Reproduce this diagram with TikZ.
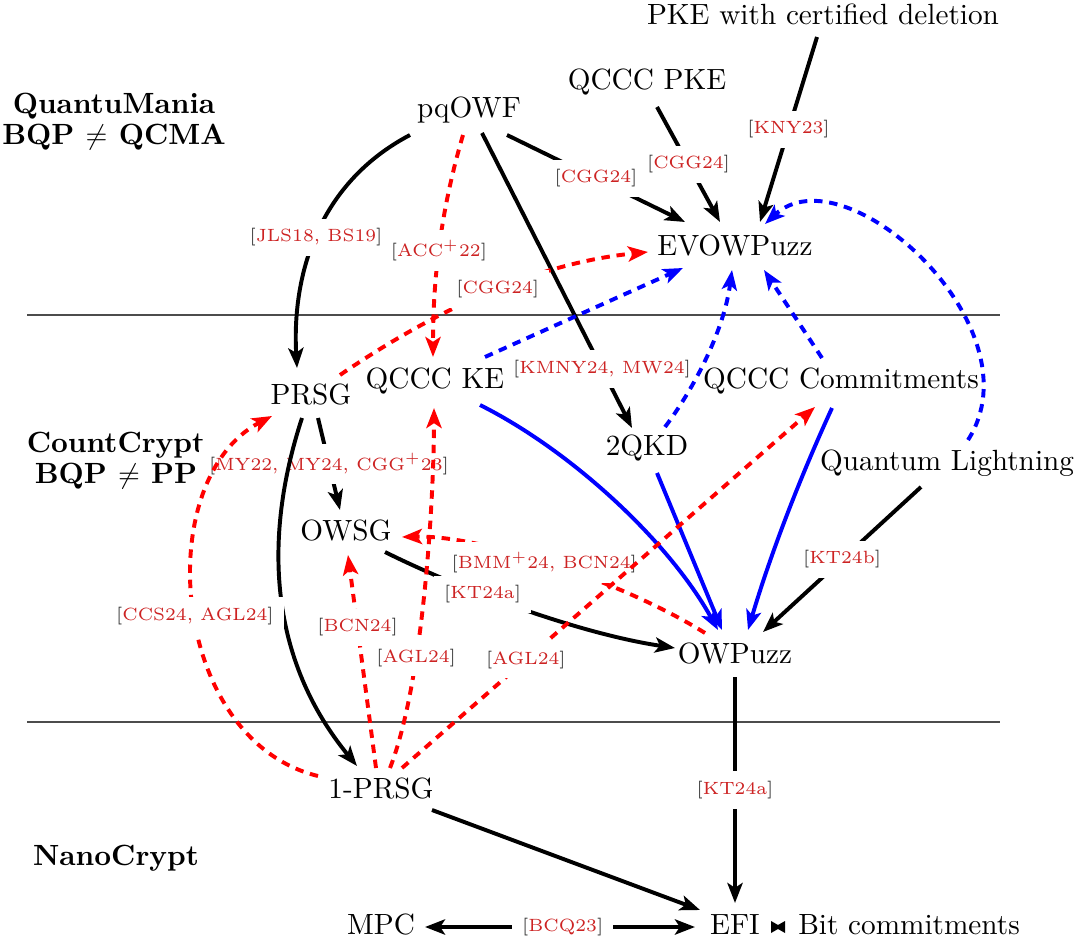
\documentclass[tikz,border=0pt]{standalone}
\usetikzlibrary{arrows.meta}
\definecolor{citered}{RGB}{205,35,35}
\definecolor{brk}{RGB}{50,50,50}
\newcommand\cit[1]{{\color{brk}[}{\color{citered}#1}{\color{brk}]}}
\begin{document}
\begin{tikzpicture}[x=0.0125cm,y=-0.0125cm,
  >={Stealth[length=2.5mm,width=1.9mm,inset=0.6mm]},
  main/.style={inner sep=3.3pt, text height=7pt, text depth=2pt, font=\fontsize{10.4}{12.5}\selectfont},
  zone/.style={font=\fontsize{10.4}{11}\selectfont\bfseries, align=center, inner sep=1pt},
  lab/.style={font=\fontsize{6.3}{7.5}\selectfont, fill=white, inner sep=3.5pt},
  arr/.style={line width=1.4pt, ->},
  dsh/.style={dash pattern=on 3pt off 2.4pt},
  sep/.style={line width=0.6pt, black!70}]
\useasboundingbox (0,0) rectangle (1080,946);

% separators
\draw[sep] (27,315) -- (1000,315);
\draw[sep] (27,722) -- (1000,722);

% nodes
\node[main] (pke) at (823,17) {PKE with certified deletion};
\node[main] (qpke) at (647,82) {QCCC PKE};
\node[main] (pq) at (469,110) {pqOWF};
\node[zone] (qm) at (114,122) {QuantuMania\\BQP $\neq$ QCMA};
\node[main] (ev) at (735,248) {EVOWPuzz};
\node[main] (prsg) at (311,397) {PRSG};
\node[main] (ke) at (435,381) {QCCC KE};
\node[main] (com) at (841,381) {QCCC Commitments};
\node[main] (qkd) at (647,448) {2QKD};
\node[zone] (cc) at (116,461) {CountCrypt\\BQP $\neq$ PP};
\node[main] (ql) at (947,463) {Quantum Lightning};
\node[main] (owsg) at (346,533) {OWSG};
\node[main] (owp) at (735,656) {OWPuzz};
\node[main] (one) at (381,791) {1-PRSG};
\node[zone] (nc) at (116,858) {NanoCrypt};
\node[main] (mpc) at (381,927) {MPC};
\node[main] (efi) at (735,927) {EFI};
\node[main] (bc) at (909,927) {Bit commitments};
\begin{scope}[shift={(efi.center)}]
  \fill (36,-6) -- (43,-2) -- (50,-6) -- (50,6) -- (43,2) -- (36,6) -- cycle;
\end{scope}

% edges
\draw[arr] ([shift={(-59,25)}]pq.center) .. controls +(-95,50) and +(-5,-88) .. ([shift={(-14,-29)}]prsg.center) node[lab,pos=0.5]{\cit{JLS18, BS19}};
\draw[arr,red,dsh] ([shift={(-6,25)}]pq.center) .. controls +(-22,75) and +(0,-80) .. ([shift={(-2,-24)}]ke.center) node[lab,pos=0.53]{\cit{ACC$^+$22}};
\draw[arr] ([shift={(38,25)}]pq.center) -- ([shift={(-50,-26)}]ev.center) node[lab,pos=0.5]{\cit{CGG24}};
\draw[arr] ([shift={(13,23)}]pq.center) -- ([shift={(-15,-20)}]qkd.center) node[lab,pos=0.8]{\cit{KMNY24, MW24}};
\draw[arr] ([shift={(10,25)}]qpke.center) -- ([shift={(-15,-26)}]ev.center) node[lab,pos=0.5]{\cit{CGG24}};
\draw[arr] ([shift={(-6,20)}]pke.center) -- ([shift={(25,-26)}]ev.center) node[lab,pos=0.5]{\cit{KNY23}};
\draw[arr,red,dsh] ([shift={(29,-22)}]prsg.center) .. controls +(110,-75) and +(-100,10) .. ([shift={(-87,4)}]ev.center) node[lab,pos=0.5]{\cit{CGG24}};
\draw[arr,blue,dsh] ([shift={(50,-24)}]ke.center) -- ([shift={(-52,20)}]ev.center);
\draw[arr,blue,dsh] ([shift={(18,-21)}]qkd.center) .. controls +(30,-40) and +(-8,60) .. ([shift={(-3,22)}]ev.center);
\draw[arr,blue,dsh] ([shift={(-19,-23)}]com.center) -- ([shift={(29,22)}]ev.center);
\draw[arr,blue,dsh] ([shift={(21,-23)}]ql.center) .. controls +(72,-112) and +(80,-74) .. ([shift={(30,-24)}]ev.center);
\draw[arr] ([shift={(7,21)}]prsg.center) -- ([shift={(-6,-23)}]owsg.center) node[lab,pos=0.5]{\cit{MY22, MY24, CGG$^+$23}};
\draw[arr] ([shift={(-9,21)}]prsg.center) .. controls +(-40,122) and +(-87,-106) .. ([shift={(-24,-25)}]one.center);
\draw[arr,blue] ([shift={(45,24)}]ke.center) .. controls +(90,45) and +(-50,-90) .. ([shift={(-17,-26)}]owp.center);
\draw[arr,blue] ([shift={(10,25)}]qkd.center) -- ([shift={(-13,-26)}]owp.center);
\draw[arr,blue] ([shift={(-9,27)}]com.center) .. controls +(-34,74) and +(22,-74) .. ([shift={(13,-26)}]owp.center);
\draw[arr] ([shift={(-26,24)}]ql.center) -- ([shift={(28,-24)}]owp.center) node[lab,pos=0.5]{\cit{KT24b}};
\draw[arr] ([shift={(39,19)}]owsg.center) .. controls +(70,35) and +(-100,-15) .. ([shift={(-60,-8)}]owp.center) node[lab,pos=0.38]{\cit{KT24a}};
\draw[arr,red,dsh] ([shift={(-30,-23)}]owp.center) .. controls +(-85,-53) and +(78,-2) .. ([shift={(56,4)}]owsg.center) node[lab,pos=0.52]{\cit{BMM$^+$24, BCN24}};
\draw[arr,red,dsh] ([shift={(-63,-15)}]one.center) .. controls +(-148,-36) and +(-122,64) .. ([shift={(-39,19)}]prsg.center) node[lab,pos=0.48]{\cit{CCS24, AGL24}};
\draw[arr,red,dsh] ([shift={(-5,-23)}]one.center) -- ([shift={(2,22)}]owsg.center) node[lab,pos=0.66]{\cit{BCN24}};
\draw[arr,red,dsh] ([shift={(9,-23)}]one.center) .. controls +(35,-90) and +(0,80) .. ([shift={(-1,27)}]ke.center) node[lab,pos=0.32]{\cit{AGL24}};
\draw[arr,red,dsh] ([shift={(21,-23)}]one.center) -- ([shift={(-26,26)}]com.center) node[lab,pos=0.3]{\cit{AGL24}};
\draw[arr] ([shift={(0,21)}]owp.center) -- ([shift={(0,-24)}]efi.center) node[lab,pos=0.5]{\cit{KT24a}};
\draw[arr] ([shift={(51,19)}]one.center) -- ([shift={(-35,-17)}]efi.center);
\draw[arr,<->] ([shift={(44,0)}]mpc.center) -- ([shift={(-40,0)}]efi.center) node[lab,pos=0.51]{\cit{BCQ23}};
\end{tikzpicture}
\end{document}
